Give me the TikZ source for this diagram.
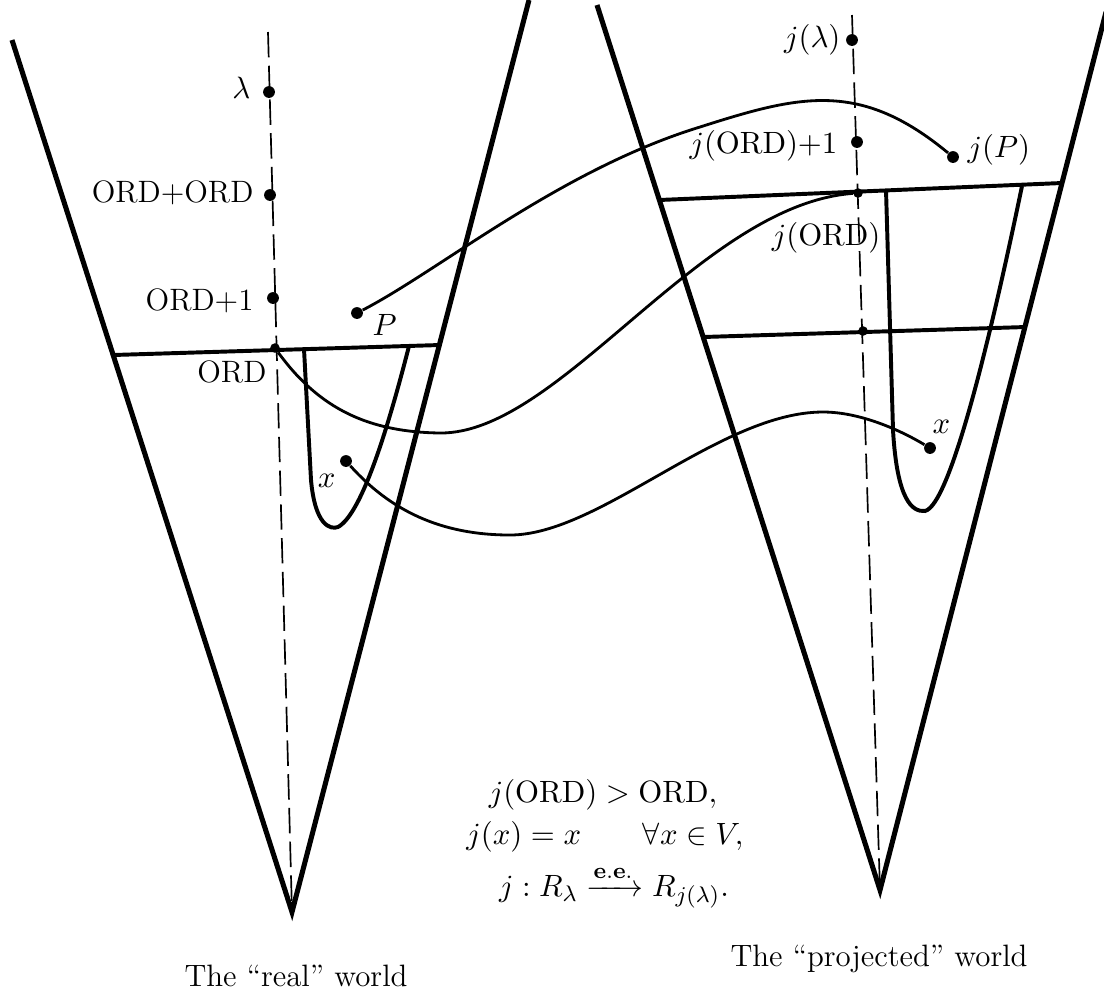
\documentclass[tikz,border=0pt]{standalone}
\usepackage{amsmath}
\begin{document}
\begin{tikzpicture}[x=0.0125cm,y=-0.0125cm,
  every node/.style={font=\fontsize{11}{13}\selectfont},
  arm/.style={line width=1.8pt, line join=miter},
  bar/.style={line width=1.4pt},
  ushape/.style={line width=1.4pt},
  link/.style={line width=1.0pt},
  axis/.style={line width=0.6pt, dash pattern=on 9pt off 3pt},
  dot/.style={circle, fill=black, inner sep=0pt, minimum size=4.2pt},
  tick/.style={circle, fill=black, inner sep=0pt, minimum size=3.4pt},
  lbl/.style={inner sep=0pt},
]
\useasboundingbox (0,0) rectangle (1104,994);

% cones
\coordinate (LT) at (12,40);
\coordinate (LA) at (292,912);
\coordinate (LR) at (529,0);
\coordinate (RT) at (597,5);
\coordinate (RA) at (880,890);
\coordinate (RR) at (1106,12);
\draw[arm] (LT) -- (LA) -- (LR);
\draw[arm] (RT) -- (RA) -- (RR);

% axes
\coordinate (LaxTop) at (268,32);
\coordinate (RaxTop) at (852,15);
\draw[axis] (LaxTop) -- (LA);
\draw[axis] (RaxTop) -- (RA);

% horizontal levels
\draw[bar] (113,355) -- (440,345);
\draw[bar] (659,200) -- (1062,183);
\draw[bar] (703,337) -- (1026,327);

% U shapes
\draw[ushape] (304,349) -- (311,480) .. controls (315,525) and (330,530) .. (338,527)
  .. controls (360,515) and (385,440) .. (409,346);
\draw[ushape] (886,190) -- (893,430) .. controls (897,500) and (912,512) .. (925,511)
  .. controls (950,505) and (990,340) .. (1022,186);

% dots
\node[dot] (lam) at (269,92) {};
\node[dot] (oo) at (270,195) {};
\node[dot] (o1) at (273,298) {};
\node[tick] (ord) at (275,348) {};
\node[dot] (P) at (357,313) {};
\node[dot] (xl) at (346,461) {};
\node[dot] (jlam) at (852,40) {};
\node[dot] (jo1) at (857,142) {};
\node[tick] (jord) at (858,193) {};
\node[dot] (jP) at (953,157) {};
\node[dot] (xr) at (930,448) {};
\node[tick] (ord2) at (863,331) {};

% connecting curves
\draw[link] (P) .. controls (440,270) and (560,170) .. (700,127)
  .. controls (800,95) and (860,80) .. (jP);
\draw[link] (ord) .. controls (320,410) and (370,432) .. (440,433)
  .. controls (560,434) and (700,205) .. (jord);
\draw[link] (xl) .. controls (390,510) and (440,535) .. (510,535)
  .. controls (600,535) and (720,412) .. (823,412)
  .. controls (860,412) and (900,430) .. (xr);

% labels
\node[lbl, anchor=base east] (lamL) at (251,98) {$\lambda$};
\node[lbl, anchor=base east] (ooL) at (254,202) {ORD+ORD};
\node[lbl, anchor=base east] (o1L) at (254,310) {ORD+1};
\node[lbl, anchor=base east] (ordL) at (267,382) {ORD};
\node[lbl, anchor=base west] (PL) at (372,335) {$P$};
\node[lbl, anchor=base east] (xlL) at (336,487) {$x$};
\node[lbl, anchor=east] (jlamL) at (841,40) {$j(\lambda)$};
\node[lbl, anchor=east] (jo1L) at (838,146) {$j(\mathrm{ORD}){+}1$};
\node[lbl, anchor=west] (jPL) at (967,150) {$j(P)$};
\node[lbl, anchor=east] (jordL) at (881,238) {$j(\mathrm{ORD})$};
\node[lbl, anchor=base west] (xrL) at (932,433) {$x$};

% formulas
\node[lbl, anchor=base] (m1) at (603,802) {$j(\mathrm{ORD}) > \mathrm{ORD},$};
\node[lbl, anchor=base] (m2) at (605,844) {$j(x) = x \qquad \forall x \in V,$};
\node[lbl, anchor=base] (m3) at (614,896) {$j : R_\lambda \xrightarrow{\mathbf{e.e.}} R_{j(\lambda)}.$};

% captions
\node[lbl, anchor=base] (capL) at (296,986) {The ``real'' world};
\node[lbl, anchor=base] (capR) at (879,966) {The ``projected'' world};
\end{tikzpicture}
\end{document}
